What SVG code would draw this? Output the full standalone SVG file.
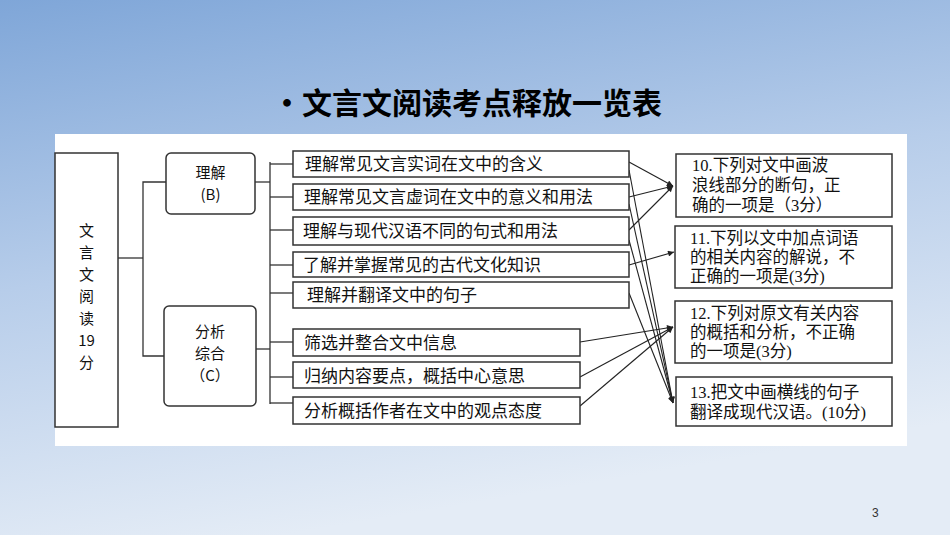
<svg xmlns="http://www.w3.org/2000/svg" width="950" height="535" viewBox="0 0 950 535">
<defs>
<linearGradient id="bg" x1="0" y1="0" x2="0.3" y2="1">
<stop offset="0" stop-color="#7fa6d8"/><stop offset="0.5" stop-color="#b7cdea"/><stop offset="1" stop-color="#e4ecf6"/>
</linearGradient>
<marker id="ah" viewBox="0 0 10 10" refX="10" refY="5" markerWidth="8" markerHeight="6" orient="auto" markerUnits="userSpaceOnUse"><path d="M0,0 L10,5 L0,10 z" fill="#222"/></marker>
<style>
.b{fill:#fff;stroke:#333;stroke-width:1.5}
.t{font-family:"Noto Sans CJK SC","Liberation Serif",serif;font-size:17px;fill:#111}
.s{font-family:"Noto Sans CJK SC","Liberation Serif",serif;font-size:15px;fill:#111}
.r{font-family:"Liberation Serif","Noto Sans CJK SC",serif;font-size:16.5px;fill:#111}
.c line,.c polyline{stroke:#333;stroke-width:1.3;fill:none}
.a line{stroke:#222;stroke-width:1.1;marker-end:url(#ah)}
</style>
</defs>
<rect width="950" height="535" fill="url(#bg)"/>
<rect x="55" y="134" width="852" height="312" fill="#fff"/>
<text x="272" y="114" font-family="'Noto Sans CJK SC',sans-serif" font-size="30" font-weight="bold" fill="#000">•文言文阅读考点释放一览表</text>
<text x="872" y="517" font-family="'Liberation Sans',sans-serif" font-size="12" fill="#333">3</text>
<g class="c">
<line x1="118" y1="258" x2="143" y2="258"/>
<polyline points="166,182 143,182 143,356 164,356"/>
<line x1="255" y1="182" x2="270" y2="182"/>
<line x1="256" y1="349" x2="270" y2="349"/>
<line x1="270" y1="162" x2="270" y2="404"/>
<line x1="270" y1="164" x2="293" y2="164"/>
<line x1="270" y1="197" x2="293" y2="197"/>
<line x1="270" y1="230" x2="293" y2="230"/>
<line x1="270" y1="265" x2="293" y2="265"/>
<line x1="270" y1="293" x2="293" y2="293"/>
<line x1="270" y1="342" x2="293" y2="342"/>
<line x1="270" y1="377" x2="293" y2="377"/>
<line x1="270" y1="403" x2="293" y2="403"/>
</g>
<g class="a">
<line x1="629" y1="162" x2="673" y2="186"/>
<line x1="629" y1="197" x2="673" y2="186"/>
<line x1="629" y1="230" x2="673" y2="186"/>
<line x1="629" y1="265" x2="674" y2="252"/>
<line x1="580" y1="342" x2="673" y2="327"/>
<line x1="580" y1="377" x2="673" y2="327"/>
<line x1="580" y1="406" x2="673" y2="327"/>
<line x1="629" y1="170" x2="673" y2="403"/>
<line x1="629" y1="204" x2="673" y2="403"/>
<line x1="629" y1="240" x2="673" y2="403"/>
<line x1="629" y1="293" x2="673" y2="403"/>
</g>
<g id="n-root"><rect class="b" x="55" y="153" width="63" height="274"/>
<text class="s" text-anchor="middle"><tspan x="86.5" y="236">文</tspan><tspan x="86.5" y="258">言</tspan><tspan x="86.5" y="280">文</tspan><tspan x="86.5" y="302">阅</tspan><tspan x="86.5" y="324">读</tspan><tspan x="86.5" y="346">19</tspan><tspan x="86.5" y="368">分</tspan></text></g>
<g id="n-b"><rect class="b" x="166" y="153" width="89" height="61" rx="5"/>
<text class="s" text-anchor="middle"><tspan x="210.5" y="178">理解</tspan><tspan x="210.5" y="200">(B)</tspan></text></g>
<g id="n-c"><rect class="b" x="164" y="306" width="92" height="100" rx="5"/>
<text class="s" text-anchor="middle"><tspan x="210" y="337">分析</tspan><tspan x="210" y="359">综合</tspan><tspan x="210" y="381">（C）</tspan></text></g>
<g id="n-i1"><rect class="b" x="293" y="151" width="336" height="26"/><text class="t" x="305" y="170">理解常见文言实词在文中的含义</text></g>
<g id="n-i2"><rect class="b" x="293" y="184" width="336" height="26"/><text class="t" x="304" y="203">理解常见文言虚词在文中的意义和用法</text></g>
<g id="n-i3"><rect class="b" x="293" y="217" width="336" height="28"/><text class="t" x="303" y="237">理解与现代汉语不同的句式和用法</text></g>
<g id="n-i4"><rect class="b" x="293" y="252" width="336" height="25"/><text class="t" x="303" y="271">了解并掌握常见的古代文化知识</text></g>
<g id="n-i5"><rect class="b" x="293" y="282" width="336" height="26"/><text class="t" x="307" y="301">理解并翻译文中的句子</text></g>
<g id="n-i6"><rect class="b" x="293" y="329" width="287" height="27"/><text class="t" x="304" y="349">筛选并整合文中信息</text></g>
<g id="n-i7"><rect class="b" x="293" y="362" width="287" height="26"/><text class="t" x="304" y="382">归纳内容要点，概括中心意思</text></g>
<g id="n-i8"><rect class="b" x="293" y="397" width="287" height="27"/><text class="t" x="304" y="417">分析概括作者在文中的观点态度</text></g>
<g id="n-q10"><rect class="b" x="676" y="154" width="216" height="63"/><text class="r"><tspan x="692" y="171">10.下列对文中画波</tspan><tspan x="692" y="191">浪线部分的断句，正</tspan><tspan x="692" y="211">确的一项是（3分）</tspan></text></g>
<g id="n-q11"><rect class="b" x="675" y="226" width="217" height="62"/><text class="r"><tspan x="690" y="244">11.下列以文中加点词语</tspan><tspan x="690" y="263">的相关内容的解说，不</tspan><tspan x="690" y="282">正确的一项是(3分)</tspan></text></g>
<g id="n-q12"><rect class="b" x="675" y="301" width="217" height="62"/><text class="r"><tspan x="690" y="319">12.下列对原文有关内容</tspan><tspan x="690" y="338">的概括和分析，不正确</tspan><tspan x="690" y="357">的一项是(3分)</tspan></text></g>
<g id="n-q13"><rect class="b" x="676" y="377" width="216" height="49"/><text class="r"><tspan x="690" y="398">13.把文中画横线的句子</tspan><tspan x="690" y="418">翻译成现代汉语。(10分)</tspan></text></g>
</svg>
